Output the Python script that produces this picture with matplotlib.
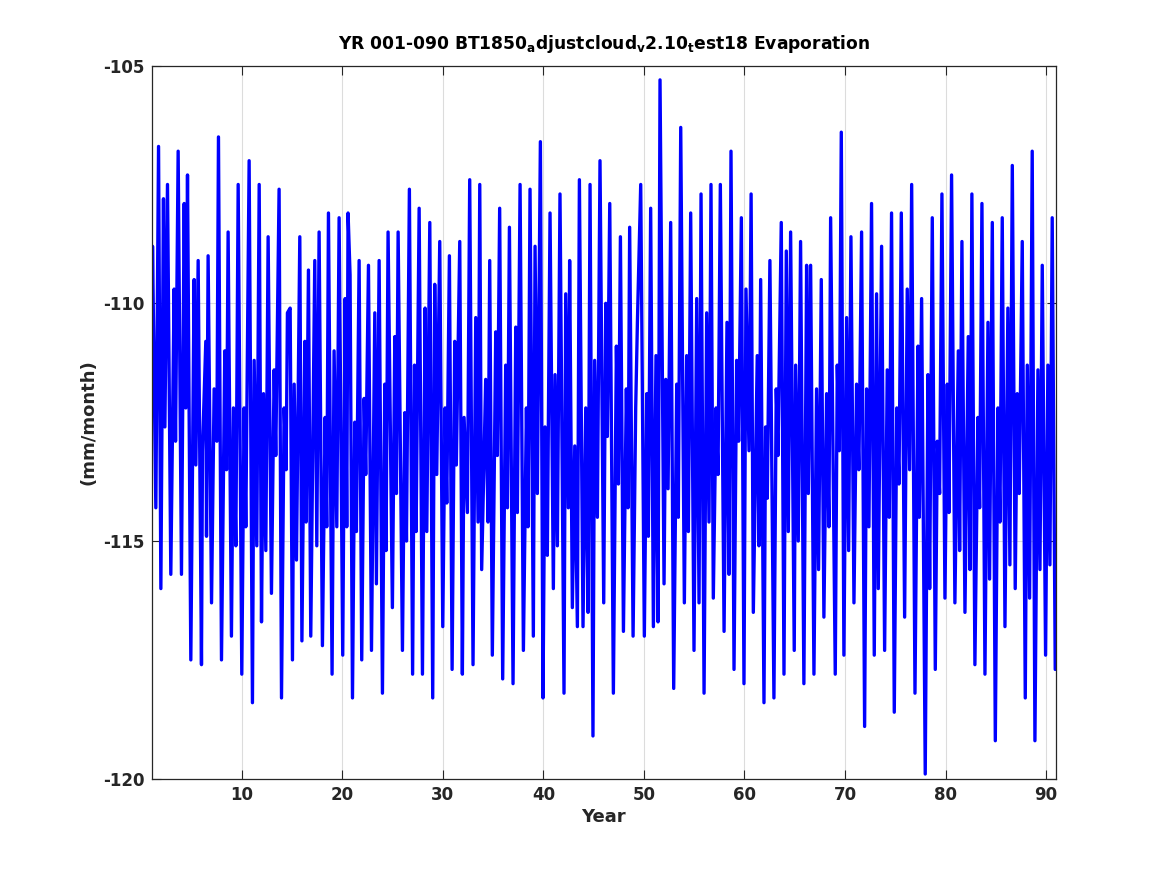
import matplotlib
matplotlib.use("Agg")
import matplotlib.pyplot as plt

year = [
    1.04, 1.12, 1.45, 1.72, 1.95, 2.21, 2.35, 2.61, 2.94, 3.27,
    3.41, 3.67, 4.00, 4.27, 4.43, 4.60, 4.93, 5.26, 5.43, 5.66,
    5.99, 6.09, 6.42, 6.49, 6.65, 6.99, 7.25, 7.52, 7.68, 7.98,
    8.31, 8.48, 8.64, 8.97, 9.17, 9.41, 9.64, 10.00, 10.23, 10.40,
    10.73, 11.06, 11.23, 11.49, 11.73, 11.96, 12.16, 12.39, 12.62, 12.95,
    13.22, 13.38, 13.71, 13.95, 14.21, 14.41, 14.54, 14.81, 15.04, 15.21,
    15.44, 15.77, 15.98,
    16.27, 16.40, 16.63, 16.86, 17.26, 17.46, 17.69, 18.02, 18.29, 18.45,
    18.62, 18.98, 19.18, 19.45, 19.68, 20.04, 20.28, 20.44, 20.57, 20.77,
    21.01, 21.24, 21.40, 21.67, 21.93, 22.17, 22.33, 22.60, 22.90, 23.23,
    23.39, 23.66, 23.99, 24.22, 24.35, 24.55, 24.98, 25.22, 25.38, 25.55,
    25.98, 26.21, 26.38, 26.67, 26.99, 27.18, 27.34, 27.64, 27.97, 28.23,
    28.40, 28.70, 28.99, 29.19, 29.39, 29.69, 29.99, 30.22, 30.39, 30.65,
    30.92,
    31.18, 31.34, 31.68, 31.94, 32.11, 32.44, 32.67, 33.00, 33.27, 33.50,
    33.67, 33.86, 34.26, 34.49, 34.66, 34.92, 35.26, 35.42, 35.65, 35.95,
    36.25, 36.42, 36.62, 36.98, 37.25, 37.41, 37.68, 38.01, 38.31, 38.47,
    38.67, 39.00, 39.17, 39.40, 39.70, 39.96, 40.16, 40.39, 40.66, 40.99,
    41.16, 41.39, 41.65, 42.05, 42.22, 42.48, 42.61, 42.88, 43.12, 43.38,
    43.58, 43.94, 44.21, 44.44, 44.64, 44.93, 45.10, 45.37, 45.63, 46.00,
    46.20, 46.36, 46.60, 46.96, 47.26, 47.46, 47.66, 47.96, 48.25, 48.42,
    48.58, 48.92, 49.18, 49.35, 49.68, 50.04, 50.28, 50.44, 50.67, 50.94,
    51.20, 51.40, 51.60, 52.00, 52.17, 52.40, 52.66, 52.96, 53.26, 53.42,
    53.66, 54.02, 54.25, 54.42, 54.65, 54.98, 55.25, 55.48, 55.68, 55.98,
    56.24, 56.47, 56.67, 56.90, 57.17, 57.37, 57.60, 57.97, 58.26, 58.46,
    58.66, 58.96, 59.22, 59.42, 59.69, 59.95, 60.15, 60.45, 60.66,
    60.88, 61.27, 61.44, 61.61, 61.94, 62.10, 62.27, 62.53, 62.93, 63.16,
    63.33, 63.66, 63.93, 64.16, 64.36, 64.59, 64.95, 65.09, 65.35, 65.58,
    65.91, 66.18, 66.35, 66.58, 66.91, 67.17, 67.37, 67.64, 67.90, 68.17,
    68.40, 68.57, 69.03, 69.23, 69.43, 69.63, 69.89, 70.16, 70.36, 70.59,
    70.89, 71.15, 71.38, 71.65, 71.95, 72.15, 72.38, 72.64, 72.91, 73.14,
    73.31, 73.64, 73.94, 74.20, 74.40, 74.63, 74.90, 75.15,
    75.37, 75.60, 75.93, 76.19, 76.43, 76.63, 76.96, 77.26, 77.39, 77.62,
    77.98, 78.25, 78.42, 78.68, 78.98, 79.18, 79.41, 79.64, 79.94, 80.17,
    80.34, 80.60, 80.93, 81.27, 81.40, 81.63, 81.93, 82.26, 82.43, 82.62,
    82.92, 83.22, 83.39, 83.62, 83.92, 84.22, 84.38, 84.65, 84.95, 85.21,
    85.41, 85.64, 85.91, 86.20, 86.40, 86.64, 86.93, 87.13, 87.33, 87.63,
    87.93, 88.13, 88.36, 88.62, 88.89, 89.19, 89.39, 89.62, 89.95, 90.18,
    90.38, 90.61, 90.91,
]

evaporation = [
    -112.3, -108.8, -114.3, -106.7, -116.0, -107.8, -112.6, -107.5, -115.7, -109.7,
    -112.9, -106.8, -115.7, -107.9, -112.2, -107.3, -117.5, -109.5, -113.4, -109.1,
    -117.6, -113.1, -110.8, -114.9, -109.0, -116.3, -111.8, -112.9, -106.5, -117.5,
    -111.0, -113.5, -108.5, -117.0, -112.2, -115.1, -107.5, -117.8, -112.2, -114.7,
    -107.0, -118.4, -111.2, -115.1, -107.5, -116.7, -111.9, -115.2, -108.6, -116.1,
    -111.4, -113.2, -107.6, -118.3, -112.2, -113.5, -110.2, -110.1, -117.5, -111.7,
    -115.4, -108.6, -117.1,
    -110.8, -114.6, -109.3, -117.0, -109.1, -115.1, -108.5, -117.2, -112.4, -114.7,
    -108.1, -117.8, -111.0, -114.7, -108.2, -117.4, -109.9, -114.7, -108.1, -109.4,
    -118.3, -112.5, -114.8, -109.1, -117.5, -112.0, -113.6, -109.2, -117.3, -110.2,
    -115.9, -109.1, -118.2, -111.7, -115.2, -108.5, -116.4, -110.7, -114.0, -108.5,
    -117.3, -112.3, -115.0, -107.6, -117.8, -111.3, -114.8, -108.0, -117.8, -110.1,
    -114.8, -108.3, -118.3, -109.6, -113.6, -108.7, -116.8, -112.2, -114.2, -109.0,
    -117.7,
    -110.8, -113.4, -108.7, -117.8, -112.4, -114.4, -107.4, -117.6, -110.3, -114.6,
    -107.5, -115.6, -111.6, -114.6, -109.1, -117.4, -110.6, -113.2, -108.0, -117.9,
    -111.3, -114.3, -108.4, -118.0, -110.5, -114.4, -107.5, -117.3, -112.2, -114.7,
    -107.6, -117.0, -108.8, -114.0, -106.6, -118.3, -112.6, -115.3, -108.1, -116.0,
    -111.5, -115.1, -107.7, -118.2, -109.8, -114.3, -109.1, -116.4, -113.0, -116.8,
    -107.4, -116.8, -112.2, -116.5, -107.5, -119.1, -111.2, -114.5, -107.0, -116.3,
    -110.0, -112.8, -107.9, -118.2, -110.9, -113.8, -108.6, -116.9, -111.8, -114.3,
    -108.4, -117.0, -112.2, -110.4, -107.5, -117.0, -111.9, -114.9, -108.0, -116.8,
    -111.1, -116.7, -105.3, -115.9, -111.6, -113.9, -108.3, -118.1, -111.7, -114.5,
    -106.3, -116.3, -111.1, -114.8, -108.1, -117.3, -109.9, -116.3, -107.7, -118.2,
    -110.2, -114.6, -107.5, -116.2, -112.2, -113.6, -107.5, -116.9, -110.4, -115.7,
    -106.8, -117.7, -111.2, -112.9, -108.2, -118.0, -109.7, -113.1, -107.7,
    -116.5, -111.1, -115.1, -109.5, -118.4, -112.6, -114.1, -109.1, -118.3, -111.8,
    -113.2, -108.3, -117.8, -108.9, -114.8, -108.5, -117.3, -111.3, -115.0, -108.7,
    -118.0, -109.2, -114.0, -109.2, -117.8, -111.8, -115.6, -109.5, -116.6, -111.9,
    -114.7, -108.2, -117.8, -111.3, -113.1, -106.4, -117.4, -110.3, -115.2, -108.6,
    -116.3, -111.7, -113.5, -108.5, -118.9, -111.8, -114.7, -107.9, -117.4, -109.8,
    -116.0, -108.8, -117.3, -111.4, -114.5, -108.1, -118.6, -112.2,
    -113.8, -108.1, -116.6, -109.7, -113.5, -107.5, -118.2, -110.9, -114.5, -109.9,
    -119.9, -111.5, -116.0, -108.2, -117.7, -112.9, -114.0, -107.7, -116.2, -111.7,
    -114.4, -107.3, -116.3, -111.0, -115.2, -108.7, -116.5, -110.7, -115.6, -107.7,
    -117.6, -112.4, -114.3, -107.9, -117.8, -110.4, -115.8, -108.3, -119.2, -112.2,
    -114.6, -108.2, -116.8, -110.1, -115.5, -107.1, -116.0, -111.9, -114.0, -108.7,
    -118.3, -111.3, -116.2, -106.8, -119.2, -111.4, -115.6, -109.2, -117.4, -111.3,
    -115.5, -108.2, -117.7,
]

x_ticks = [10, 20, 30, 40, 50, 60, 70, 80, 90]
y_ticks = [-120, -115, -110, -105]

n = min(len(year), len(evaporation))

plt.rcParams['font.family'] = ['DejaVu Sans']
plt.rcParams['mathtext.fontset'] = 'dejavusans'

fig = plt.figure(figsize=(11.67, 8.75), dpi=100)
ax = fig.add_axes([0.13, 0.11, 0.775, 0.815])

ax.plot(year[:n], evaporation[:n], color=(0, 0, 1), linewidth=2.4,
        solid_joinstyle='round', solid_capstyle='round')

ax.set_xlim(1.04, 91.0)
ax.set_ylim(-120, -105)
ax.set_xticks(x_ticks)
ax.set_yticks(y_ticks)
ax.set_xticklabels([str(v) for v in x_ticks])
ax.set_yticklabels([str(v) for v in y_ticks])

dark = '#262626'
ax.grid(True, color='#dcdcdc', linewidth=0.8)
ax.set_axisbelow(True)
for sp in ax.spines.values():
    sp.set_color(dark)
    sp.set_linewidth(0.9)
ax.tick_params(direction='in', length=6.5, width=0.8, colors=dark,
               top=True, right=True, labelsize=12, pad=5)
for lab in ax.get_xticklabels() + ax.get_yticklabels():
    lab.set_fontweight('bold')

ax.set_xlabel('Year', fontsize=13, fontweight='bold', color=dark, labelpad=3)
ax.set_ylabel('(mm/month)', fontsize=13, fontweight='bold', color=dark, labelpad=4)
ax.set_title(r'YR 001-090 BT1850$_\mathbf{a}$djustcloud$_\mathbf{v}$2.10$_\mathbf{t}$est18 Evaporation',
             fontsize=12.3, fontweight='bold', color='black', pad=12)

fig.savefig('out.png', dpi=100)
